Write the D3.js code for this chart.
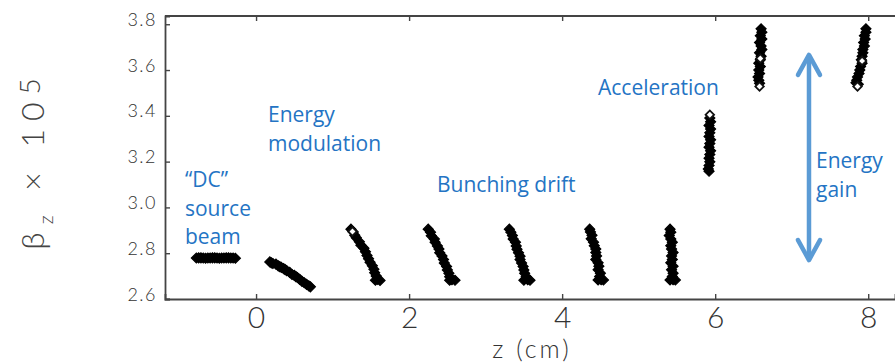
<!DOCTYPE html>
<html>
<head>
<meta charset="utf-8">
<script src="https://cdn.jsdelivr.net/npm/d3@7"></script>
<style>
  body { margin: 0; background: #fff; }
  .tick text { font-family: Lato, "DejaVu Sans", sans-serif; font-weight: 300; fill: #333; }
  .note { font-family: "Open Sans", "Noto Sans", sans-serif; fill: #2474c4; font-size: 21px; }
</style>
</head>
<body>
<svg id="chart" width="895" height="363"></svg>
<script>
// axis ticks
var zTicks = [0, 2, 4, 6, 8];
var betaTicks = [2.6, 2.8, 3.0, 3.2, 3.4, 3.6, 3.8];

// macro-particles of each bunch snapshot: [z (cm), beta_z x 10^5]
var dcBeam = [[-0.78,2.779],[-0.75,2.780],[-0.72,2.780],[-0.69,2.779],[-0.66,2.778],[-0.63,2.779],
  [-0.60,2.779],[-0.57,2.780],[-0.54,2.780],[-0.51,2.779],[-0.48,2.778],[-0.45,2.779],
  [-0.42,2.779],[-0.39,2.780],[-0.36,2.780],[-0.33,2.779],[-0.30,2.779],[-0.27,2.778]];
var modulated = [[0.18,2.762],[0.20,2.758],[0.22,2.755],[0.26,2.752],[0.29,2.745],[0.31,2.741],
  [0.33,2.738],[0.36,2.733],[0.38,2.728],[0.40,2.724],[0.44,2.716],[0.47,2.707],[0.50,2.703],
  [0.52,2.698],[0.54,2.694],[0.57,2.686],[0.60,2.677],[0.63,2.671],[0.66,2.664],[0.69,2.657],
  [0.71,2.653]];
var drift1 = [[1.24,2.905],[1.27,2.893],[1.29,2.878],[1.31,2.867],[1.35,2.850],[1.37,2.835],
  [1.41,2.822],[1.43,2.806],[1.45,2.790],[1.47,2.776],[1.49,2.760],[1.52,2.745],[1.54,2.730],
  [1.55,2.715],[1.57,2.700],[1.59,2.686],[1.62,2.681],[1.56,2.682]];
var drift2 = [[2.25,2.905],[2.28,2.892],[2.29,2.876],[2.33,2.862],[2.34,2.848],[2.37,2.832],
  [2.39,2.818],[2.40,2.802],[2.43,2.788],[2.45,2.772],[2.46,2.757],[2.49,2.742],[2.50,2.727],
  [2.52,2.712],[2.53,2.697],[2.56,2.684],[2.60,2.682],[2.53,2.682]];
var drift3 = [[3.31,2.905],[3.33,2.892],[3.35,2.877],[3.36,2.862],[3.39,2.848],[3.40,2.832],
  [3.41,2.817],[3.43,2.802],[3.45,2.787],[3.45,2.772],[3.47,2.757],[3.49,2.742],[3.50,2.727],
  [3.51,2.712],[3.53,2.697],[3.55,2.684],[3.58,2.682],[3.50,2.682]];
var drift4 = [[4.36,2.905],[4.37,2.893],[4.39,2.878],[4.38,2.863],[4.41,2.848],[4.42,2.833],
  [4.44,2.818],[4.44,2.803],[4.45,2.788],[4.44,2.773],[4.47,2.758],[4.48,2.743],[4.47,2.728],
  [4.50,2.713],[4.49,2.698],[4.51,2.684],[4.47,2.683],[4.54,2.683]];
var drift5 = [[5.41,2.905],[5.42,2.892],[5.40,2.877],[5.42,2.862],[5.44,2.848],[5.42,2.833],
  [5.43,2.818],[5.45,2.803],[5.43,2.788],[5.44,2.773],[5.42,2.758],[5.45,2.743],[5.43,2.728],
  [5.45,2.713],[5.44,2.698],[5.45,2.684],[5.41,2.683],[5.48,2.683]];
var accel1 = [[5.93,3.390],[5.94,3.374],[5.92,3.358],[5.94,3.342],[5.93,3.326],[5.92,3.310],
  [5.94,3.295],[5.93,3.279],[5.92,3.263],[5.94,3.247],[5.93,3.231],[5.92,3.215],[5.93,3.199],
  [5.92,3.183],[5.91,3.168],[5.92,3.158]];
var accel2 = [[6.60,3.780],[6.61,3.765],[6.59,3.750],[6.61,3.735],[6.58,3.720],[6.60,3.705],
  [6.61,3.690],[6.58,3.675],[6.60,3.660],[6.59,3.645],[6.57,3.630],[6.59,3.615],[6.57,3.600],
  [6.58,3.585],[6.56,3.570],[6.57,3.555],[6.58,3.542]];
var accel3 = [[7.97,3.780],[7.97,3.765],[7.95,3.750],[7.96,3.735],[7.94,3.720],[7.95,3.705],
  [7.93,3.690],[7.93,3.675],[7.92,3.660],[7.91,3.645],[7.92,3.630],[7.90,3.615],[7.89,3.600],
  [7.88,3.585],[7.86,3.570],[7.85,3.555],[7.84,3.545],[7.87,3.538]];
// particles drawn as open diamonds
var openMarkers = [[5.93,3.405],[6.58,3.528],[7.86,3.528],[1.26,2.895],[6.59,3.650],[7.92,3.640]];

// blue annotations, anchored at [z, beta]
var notes = [
  {lines: ["Energy", "modulation"], z: 0.156, beta: 3.373},
  {lines: ["\u201cDC\u201d", "source", "beam"], z: -0.929, beta: 3.089},
  {lines: ["Bunching drift"], z: 2.365, beta: 3.067},
  {lines: ["Acceleration"], z: 4.469, beta: 3.491},
  {lines: ["Energy", "gain"], z: 7.318, beta: 3.172}
];
var gainArrow = {z: 7.226, from: 2.770, to: 3.666};

var svg = d3.select("#chart");
var plotL = 165, plotR = 895, plotT = 16, plotB = 299;

var x = d3.scaleLinear().domain([-1.19, 8.35]).range([plotL, plotR]);
var y = d3.scaleLinear().domain([2.6, 3.836]).range([plotB, plotT]);

// top frame line
svg.append("line").attr("x1", plotL).attr("x2", plotR).attr("y1", plotT).attr("y2", plotT)
  .attr("stroke", "#444").attr("stroke-width", 1.8);

// Add the X Axis (ticks inward)
var xAxis = svg.append("g")
  .attr("transform", "translate(0," + plotB + ")")
  .call(d3.axisBottom(x).tickValues(zTicks).tickSize(-5).tickPadding(8).tickFormat(d3.format("d")));
xAxis.selectAll("text").style("font-size", "30px");

// top ticks
svg.append("g")
  .attr("transform", "translate(0," + plotT + ")")
  .call(d3.axisTop(x).tickValues(zTicks).tickSize(-5).tickFormat(""))
  .select(".domain").remove();

// Add the Y Axis
var yAxis = svg.append("g")
  .attr("transform", "translate(" + plotL + ",0)")
  .call(d3.axisLeft(y).tickValues(betaTicks).tickSize(-5).tickPadding(8).tickFormat(d3.format(".1f")));
yAxis.selectAll("text").style("font-size", "18px").attr("dy", "1px").style("letter-spacing", "1.5px");

svg.selectAll(".domain").attr("stroke", "#444").attr("stroke-width", 1.8);
svg.selectAll(".tick line").attr("stroke", "#444").attr("stroke-width", 1.4);

// axis titles
svg.append("text")
  .attr("x", 532).attr("y", 358)
  .attr("text-anchor", "middle")
  .style("font-family", "Lato, 'DejaVu Sans', sans-serif").style("font-weight", 300)
  .style("font-size", "25px").style("letter-spacing", "3px").attr("fill", "#333")
  .text("z (cm)");

var yt = svg.append("text")
  .attr("transform", "translate(44,160) rotate(-90)")
  .attr("text-anchor", "middle")
  .style("font-family", "Lato, 'DejaVu Sans', sans-serif").style("font-weight", 300)
  .style("font-size", "32px").style("letter-spacing", "8px").attr("fill", "#444");
yt.append("tspan").text("\u03b2");
yt.append("tspan").attr("dy", 9).style("font-size", "20px").text("z");
yt.append("tspan").attr("dy", -9).text(" \u00d7 10");
yt.append("tspan").attr("dy", -4).style("font-size", "28px").text("5");

// particles
var diamond = d3.symbol(d3.symbolSquare).size(50);
var bunches = [dcBeam, modulated, drift1, drift2, drift3, drift4, drift5, accel1, accel2, accel3];
var pts = svg.append("g");
bunches.forEach(function(b) {
  pts.selectAll(null)
    .data(b)
    .enter().append("path")
    .attr("d", diamond)
    .attr("transform", function(d) { return "translate(" + x(d[0]) + "," + y(d[1]) + ") rotate(45)"; })
    .attr("fill", "#000").attr("stroke", "#000").attr("stroke-width", 1.2);
});
pts.selectAll(null)
  .data(openMarkers)
  .enter().append("path")
  .attr("d", d3.symbol(d3.symbolSquare).size(36))
  .attr("transform", function(d) { return "translate(" + x(d[0]) + "," + y(d[1]) + ") rotate(45)"; })
  .attr("fill", "#fff").attr("stroke", "#111").attr("stroke-width", 1.8);

// annotations
notes.forEach(function(n) {
  var t = svg.append("text").attr("class", "note");
  n.lines.forEach(function(line, i) {
    t.append("tspan").attr("x", x(n.z)).attr("y", y(n.beta) + i * 28.5).text(line);
  });
});

// double-headed energy gain arrow
var ax = x(gainArrow.z), ay1 = y(gainArrow.to), ay2 = y(gainArrow.from);
var arrow = svg.append("g").attr("stroke", "#5b9bd5").attr("stroke-width", 4.5)
  .attr("fill", "none").attr("stroke-linecap", "round").attr("stroke-linejoin", "round");
arrow.append("line").attr("x1", ax).attr("x2", ax).attr("y1", ay1 + 2).attr("y2", ay2 - 2);
arrow.append("path").attr("d", "M" + (ax - 11) + "," + (ay1 + 20) + "L" + ax + "," + ay1 + "L" + (ax + 11) + "," + (ay1 + 20));
arrow.append("path").attr("d", "M" + (ax - 11) + "," + (ay2 - 20) + "L" + ax + "," + ay2 + "L" + (ax + 11) + "," + (ay2 - 20));
</script>
</body>
</html>
